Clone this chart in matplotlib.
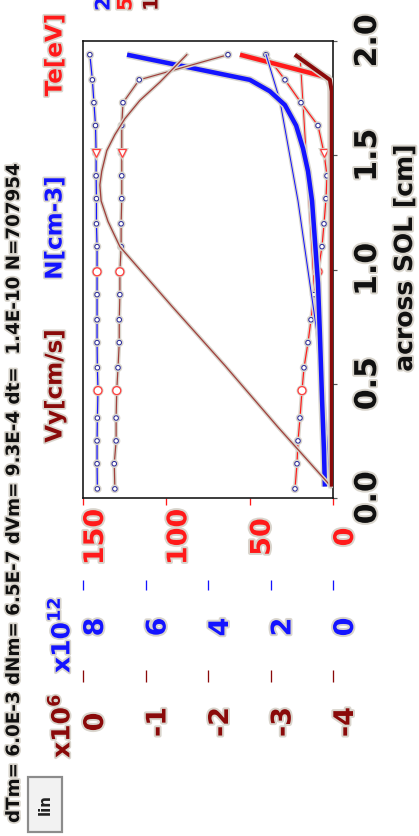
import matplotlib
matplotlib.use("Agg")
import matplotlib.pyplot as plt
import matplotlib.patheffects as pe
from matplotlib.patches import Rectangle

# ---------------- data ----------------
# common grid of the marker profiles, across SOL [cm]
s_grid = [0.04, 0.15, 0.25, 0.35, 0.47, 0.57, 0.68, 0.78, 0.89, 0.99,
          1.10, 1.20, 1.31, 1.41, 1.51, 1.63, 1.73, 1.83, 1.94]
# thin blue profile with markers, N [1e12 cm-3]
n_ref = [7.54, 7.55, 7.55, 7.54, 7.52, 7.54, 7.55, 7.55, 7.55, 7.55,
         7.55, 7.57, 7.57, 7.58, 7.58, 7.60, 7.65, 7.70, 7.78]
# thin brown profile with markers, Vy [1e6 cm/s]
vy_ref = [-0.51, -0.50, -0.53, -0.53, -0.54, -0.56, -0.58, -0.58, -0.59, -0.59,
          -0.61, -0.61, -0.62, -0.62, -0.62, -0.62, -0.64, -0.90, -2.32]
# thin red profile with markers, Te [eV]
te_ref = [22.8, 21.6, 21.0, 19.8, 18.6, 17.4, 15.0, 13.2, 11.4, 9.0,
          6.6, 5.4, 4.2, 3.6, 5.4, 9.0, 19.2, 28.8, 40.2]
special_idx = [4, 9, 14]

# thin blue line without markers, N
s_n_init = [0.06, 0.57, 0.90, 1.30, 1.74, 1.94]
n_init = [0.10, 0.35, 0.70, 1.12, 1.70, 2.14]
# thin red line without markers, Te
s_te_init = [0.05, 0.72, 1.30, 1.94]
te_init = [1.8, 9.6, 14.4, 19.8]
# thin brown arc, Vy
s_vy_arc = [0.05, 0.31, 0.58, 0.84, 1.10, 1.21, 1.30, 1.37, 1.43, 1.52,
            1.59, 1.66, 1.74, 1.82, 1.94]
vy_arc = [-3.97, -3.12, -2.27, -1.42, -0.59, -0.40, -0.29, -0.27, -0.30, -0.38,
          -0.51, -0.67, -0.91, -1.23, -1.66]

# thick current profiles
s_n = [0.05, 0.21, 0.43, 0.72, 0.94, 1.13, 1.30, 1.43, 1.53, 1.63, 1.72, 1.78, 1.83, 1.94]
n_now = [0.26, 0.29, 0.35, 0.42, 0.48, 0.58, 0.67, 0.80, 0.96, 1.18, 1.54, 2.02, 2.66, 6.59]
s_te = [0.05, 1.80, 1.84, 1.94]
te_now = [0.6, 1.2, 3.0, 55.8]
s_vy = [0.05, 1.78, 1.83, 1.94]
vy_now = [-3.98, -3.98, -3.95, -3.39]

te_ticks = [0, 50, 100, 150]
n_ticks = [0, 2, 4, 6, 8]
vy_ticks = [0, -1, -2, -3, -4]
s_ticks = [0.0, 0.5, 1.0, 1.5, 2.0]

header = "dTm= 6.0E-3 dNm= 6.5E-7 dVm= 9.3E-4 dt=  1.4E-10 N=707954"

# ---------------- style ----------------
W, H, DPI = 419, 836, 72
BLUE = "#1414ff"
RED = "#ff1a1a"
DRED = "#8a0a0a"
BROWN = "#a0403c"
HALO = "#d9d5cd"
MK = "#2a2a9a"

def fx(px):
    return px / W

def fy(py):
    return 1 - py / H

def halo(w):
    return [pe.Stroke(linewidth=w, foreground=HALO), pe.Normal()]

fig = plt.figure(figsize=(W / DPI, H / DPI), dpi=DPI)
fig.patch.set_facecolor("white")

L, R, T, B = 83, 333, 41, 498
ax = fig.add_axes([fx(L), fy(B), (R - L) / W, (B - T) / H])
axN = ax.twiny()
axV = ax.twiny()

ax.set_xlim(150, 0)
axN.set_xlim(8, 0)
axV.set_xlim(0, -4)
ax.set_ylim(0, 2.0)

# ---- thin profiles ----
mk = dict(marker="o", ms=4.5, mfc="white", mec=MK, mew=1.0)
ax.plot(te_init, s_te_init, color=RED, lw=1.0, path_effects=halo(3.5))
axN.plot(n_init, s_n_init, color=BLUE, lw=1.0, path_effects=halo(3.5))
axN.plot(n_ref, s_grid, color=BLUE, lw=1.2, path_effects=halo(4), **mk)
ax.plot(te_ref, s_grid, color=RED, lw=1.2, path_effects=halo(4), **mk)
axV.plot(vy_ref, s_grid, color=BROWN, lw=1.2, path_effects=halo(4), **mk)
axV.plot(vy_arc, s_vy_arc, color=BROWN, lw=1.3, path_effects=halo(4))

for axx, vals in ((axN, n_ref), (ax, te_ref), (axV, vy_ref)):
    for k, i in enumerate(special_idx):
        axx.plot([vals[i]], [s_grid[i]], linestyle="none",
                 marker="v" if k == 2 else "o", ms=8, mfc="white",
                 mec="#ff4040", mew=1.3, path_effects=halo(3))

# ---- thick profiles ----
axN.plot(n_now, s_n, color=BLUE, lw=4.5, solid_capstyle="butt", path_effects=halo(7.5))
ax.plot(te_now, s_te, color=RED, lw=4.5, solid_capstyle="butt", path_effects=halo(7.5))
axV.plot(vy_now, s_vy, color=DRED, lw=4.0, solid_capstyle="butt", path_effects=halo(7))

# ---- frame ----
for sp in ax.spines.values():
    sp.set_color("#111111")
    sp.set_linewidth(1.6)
for a in (axN, axV):
    for sp in a.spines.values():
        sp.set_visible(False)

# ---- SOL axis (right side) ----
ax.yaxis.tick_right()
ax.set_yticks(s_ticks, [f"{v:.1f}" for v in s_ticks], rotation=90,
              ha="left", va="center", fontsize=30, fontweight="bold", color="#111111")
ax.tick_params(axis="y", which="both", left=False, right=True, length=4,
               width=1.2, color="#555555", pad=16)
ax.set_ylabel("across SOL [cm]", rotation=90, ha="center", va="center",
              fontsize=25, fontweight="bold", color="#111111")
ax.yaxis.set_label_position("right")
ax.yaxis.set_label_coords((393 - L) / (R - L), (B - 258) / (B - T))

# ---- value axes (bottom, stacked) ----
lab_kw = dict(rotation=90, ha="left", va="center", fontsize=27, fontweight="bold")
ax.set_xticks(te_ticks, [str(v) for v in te_ticks], color=RED, **lab_kw)
ax.tick_params(axis="x", bottom=True, top=False, length=7, width=1.3,
               color=RED, pad=32, direction="out")

for a, ticks, col, off, tl, pad in ((axN, n_ticks, BLUE, 82, 10, 37),
                                    (axV, vy_ticks, DRED, 172, 12, 40)):
    a.xaxis.tick_bottom()
    a.spines["bottom"].set_position(("outward", off))
    a.set_xticks(ticks, [str(v) for v in ticks], color=col, **lab_kw)
    a.tick_params(axis="x", bottom=True, top=False, length=tl, width=1.3,
                  color=col, pad=pad, direction="out")

for a in (ax, axN, axV):
    for t in a.get_xticklabels() + a.get_yticklabels():
        t.set_path_effects([pe.withStroke(linewidth=4, foreground=HALO)])
ax.yaxis.label.set_path_effects([pe.withStroke(linewidth=4, foreground=HALO)])

# ---- texts around ----
tkw = dict(rotation=90, fontweight="bold",
           path_effects=[pe.withStroke(linewidth=3.5, foreground=HALO)])
fig.text(fx(14), fy(823), header, ha="center", va="bottom", fontsize=18.3,
         color="#111111", **tkw)
fig.text(fx(55), fy(55), "Te[eV]", ha="center", va="center", fontsize=23, color=RED, **tkw)
fig.text(fx(55), fy(228), "N[cm-3]", ha="center", va="center", fontsize=23, color=BLUE, **tkw)
fig.text(fx(55), fy(386), "Vy[cm/s]", ha="center", va="center", fontsize=23, color=DRED, **tkw)
fig.text(fx(61), fy(758), r"x10$^{\mathbf{6}}$", ha="center", va="bottom", fontsize=25,
         color=DRED, **tkw)
fig.text(fx(61), fy(673), r"x10$^{\mathbf{12}}$", ha="center", va="bottom", fontsize=25,
         color=BLUE, **tkw)
for xp, ch, col in ((104, "2", BLUE), (126, "5", RED), (152, "1", DRED)):
    fig.text(fx(xp), fy(11), ch, ha="center", va="bottom", fontsize=20, color=col, **tkw)

# "lin" button
fig.patches.append(Rectangle((fx(28), fy(832)), 34 / W, 55 / H, transform=fig.transFigure,
                             facecolor="#f2f2f2", edgecolor="#8c8c8c", lw=2.2))
fig.text(fx(45), fy(805), "lin", ha="center", va="center", fontsize=15,
         color="#222222", rotation=90, fontweight="bold")

fig.savefig("out.png", dpi=DPI)
